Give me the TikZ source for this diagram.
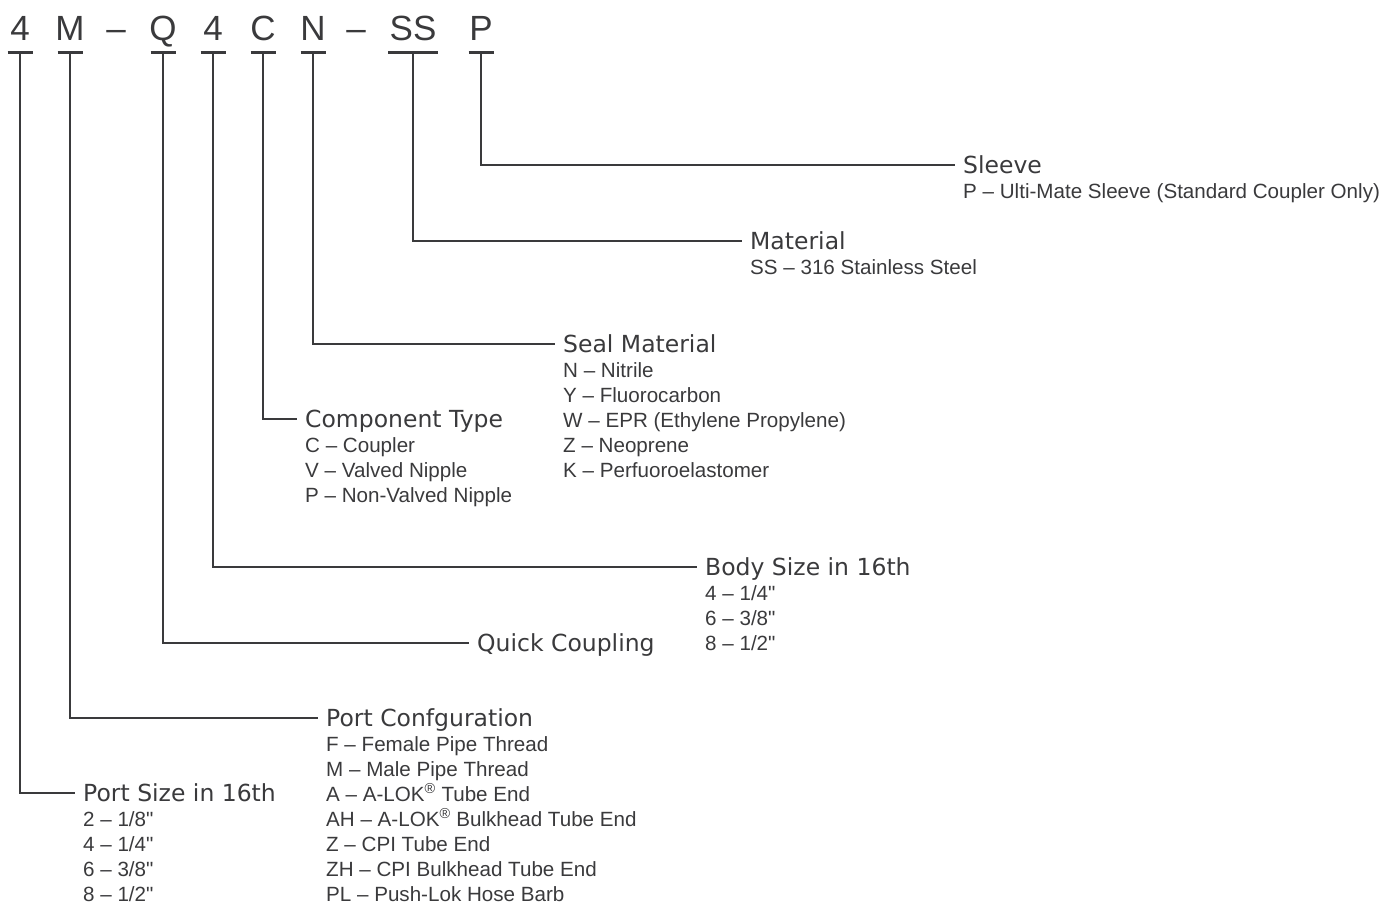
\documentclass[tikz,border=0pt]{standalone}
\usepackage{fontspec}
\setmainfont{Liberation Sans}
\newfontfamily\headfont{DejaVu Sans}
\usetikzlibrary{positioning}
\definecolor{ink}{RGB}{58,58,60}
\newcommand{\regd}{\textsuperscript{®}}
\newcommand{\inch}{\textquotedbl}

\tikzset{
  code/.style={font=\fontsize{35}{40}\selectfont, text=ink, inner sep=0, anchor=base, text depth=0pt},
  bar/.style={draw=ink, line width=3pt},
  lead/.style={draw=ink, line width=2pt},
  head/.style={font=\headfont\fontsize{23.5}{28}\selectfont, text=ink, anchor=base west, inner ysep=0, inner xsep=8pt, text height=17pt, text depth=0pt},
  entry/.style={font=\fontsize{20.6}{25}\selectfont, text=ink, anchor=base west, inner sep=0}
}

\begin{document}
\begin{tikzpicture}[x=1pt, y=-1pt]
  \useasboundingbox (0,0) rectangle (1388,905);

  % part number
  \foreach \px/\nm/\ch in {20/sz/4, 70/cf/M, 116/da/–, 163/qc/Q, 213/bd/4, 263/ct/C, 313/sl/N, 356/db/–, 413/mt/SS, 481/sv/P}
    \node[code] (\nm) at (\px,40) {\ch};

  % underline bars
  \foreach \nm/\hw in {sz/12.5, cf/12.5, qc/12.5, bd/12.5, ct/12.5, sl/12.5, mt/25, sv/12.5}
    \draw[bar] ([xshift=-\hw pt, yshift=-12pt]\nm.south) -- ([xshift=\hw pt, yshift=-12pt]\nm.south);

  % headings
  \node[head] (sleeve) at (955,173) {Sleeve};
  \node[head] (material) at (742,249) {Material};
  \node[head] (seal) at (555,352) {Seal Material};
  \node[head] (comp) at (297,427) {Component Type};
  \node[head] (body) at (697,575) {Body Size in 16th};
  \node[head] (quick) at (469,651) {Quick Coupling};
  \node[head] (portconf) at (318,726) {Port Confguration};
  \node[head] (portsize) at (75,801) {Port Size in 16th};

  % leaders
  \draw[lead] ([yshift=-12pt]sv.south) |- (sleeve.west);
  \draw[lead] ([yshift=-12pt]mt.south) |- (material.west);
  \draw[lead] ([yshift=-12pt]sl.south) |- (seal.west);
  \draw[lead] ([yshift=-12pt]ct.south) |- (comp.west);
  \draw[lead] ([yshift=-12pt]bd.south) |- (body.west);
  \draw[lead] ([yshift=-12pt]qc.south) |- (quick.west);
  \draw[lead] ([yshift=-12pt]cf.south) |- (portconf.west);
  \draw[lead] ([yshift=-12pt]sz.south) |- (portsize.west);

  % option lists
  \node[entry] (sleeve-1) at (963,198) {P – Ulti-Mate Sleeve (Standard Coupler Only)};
  \node[entry] (material-1) at (750,274) {SS – 316 Stainless Steel};
  \foreach \t [count=\i] in {N – Nitrile, Y – Fluorocarbon, W – EPR (Ethylene Propylene), Z – Neoprene, K – Perfuoroelastomer}
    \node[entry] (seal-\i) at (563,352+25*\i) {\t};
  \foreach \t [count=\i] in {C – Coupler, V – Valved Nipple, P – Non-Valved Nipple}
    \node[entry] (comp-\i) at (305,427+25*\i) {\t};
  \foreach \t [count=\i] in {4 – 1/4\inch, 6 – 3/8\inch, 8 – 1/2\inch}
    \node[entry] (body-\i) at (705,575+25*\i) {\t};
  \foreach \t [count=\i] in {F – Female Pipe Thread, M – Male Pipe Thread, A – A-LOK\regd{} Tube End, AH – A-LOK\regd{} Bulkhead Tube End, Z – CPI Tube End, ZH – CPI Bulkhead Tube End, PL – Push-Lok Hose Barb}
    \node[entry] (portconf-\i) at (326,726+25*\i) {\t};
  \foreach \t [count=\i] in {2 – 1/8\inch, 4 – 1/4\inch, 6 – 3/8\inch, 8 – 1/2\inch}
    \node[entry] (portsize-\i) at (83,801+25*\i) {\t};
\end{tikzpicture}
\end{document}
